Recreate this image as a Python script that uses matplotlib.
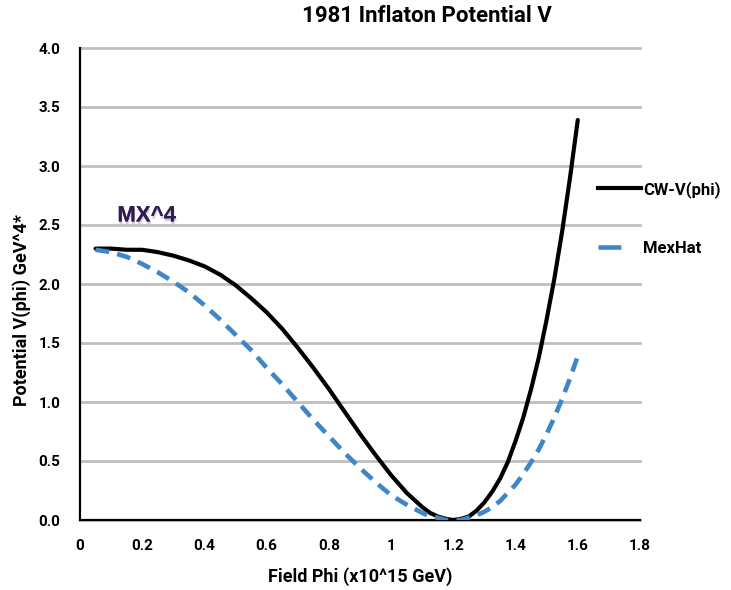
import matplotlib
matplotlib.use('Agg')
import matplotlib.pyplot as plt
import matplotlib.patheffects as pe
from matplotlib.lines import Line2D

plt.rcParams['font.family'] = ['Roboto', 'DejaVu Sans']

# Field values (x10^15 GeV) and the two potentials
phi = [0.05, 0.10, 0.15, 0.20, 0.25, 0.30, 0.35, 0.40, 0.45, 0.50,
       0.55, 0.60, 0.65, 0.70, 0.75, 0.80, 0.85, 0.90, 0.95, 1.00,
       1.05, 1.10, 1.125, 1.15, 1.175, 1.20, 1.225, 1.25, 1.275, 1.30,
       1.325, 1.35, 1.375, 1.40, 1.425, 1.45, 1.475, 1.50, 1.525, 1.55,
       1.575, 1.60]
cw_v = [2.30, 2.30, 2.29, 2.29, 2.27, 2.24, 2.20, 2.15, 2.08, 1.99,
        1.88, 1.76, 1.62, 1.46, 1.29, 1.11, 0.92, 0.73, 0.55, 0.38,
        0.23, 0.11, 0.06, 0.03, 0.01, 0.00, 0.01, 0.03, 0.08, 0.15,
        0.24, 0.35, 0.49, 0.67, 0.87, 1.11, 1.38, 1.70, 2.05, 2.45,
        2.90, 3.39]
mexhat = [2.29, 2.27, 2.23, 2.17, 2.10, 2.02, 1.93, 1.82, 1.70, 1.57,
          1.44, 1.29, 1.15, 1.00, 0.85, 0.71, 0.57, 0.44, 0.32, 0.21,
          0.13, 0.06, 0.03, 0.02, 0.00, 0.00, 0.00, 0.02, 0.04, 0.07,
          0.11, 0.16, 0.23, 0.30, 0.39, 0.49, 0.60, 0.73, 0.87, 1.03,
          1.20, 1.39]

x_ticks = [0, 0.2, 0.4, 0.6, 0.8, 1.0, 1.2, 1.4, 1.6, 1.8]
x_tick_labels = ['0', '0.2', '0.4', '0.6', '0.8', '1', '1.2', '1.4', '1.6', '1.8']
y_ticks = [0, 0.5, 1.0, 1.5, 2.0, 2.5, 3.0, 3.5, 4.0]
y_tick_labels = ['0.0', '0.5', '1.0', '1.5', '2.0', '2.5', '3.0', '3.5', '4.0']

blue = '#3f86c6'

fig = plt.figure(figsize=(7.31, 5.90), dpi=100)
ax = fig.add_axes([80 / 731, 1 - 520 / 590, 560 / 731, 472 / 590])

ax.plot(phi, cw_v, color='black', lw=3, solid_capstyle='round', zorder=3)
ax.plot(phi, mexhat, color=blue, lw=3.3, dashes=(3, 1.8), zorder=3)

ax.set_xlim(0, 1.8)
ax.set_ylim(0, 4.0)
ax.set_xticks(x_ticks)
ax.set_xticklabels(x_tick_labels, fontsize=11, fontweight='bold')
ax.set_yticks(y_ticks)
ax.set_yticklabels(y_tick_labels, fontsize=11, fontweight='bold')
ax.tick_params(length=0)
ax.tick_params(axis='x', pad=14)
ax.tick_params(axis='y', pad=14)

ax.yaxis.grid(True, color='#bfbfbf', lw=2)
for gl in ax.get_ygridlines():
    gl.set_clip_on(False)
ax.set_axisbelow(True)
for s in ['top', 'right']:
    ax.spines[s].set_visible(False)
for s in ['left', 'bottom']:
    ax.spines[s].set_linewidth(1.6)
    ax.spines[s].set_zorder(2.5)

# Annotation with a soft shadow
ax.text(0.12, 2.53, 'MX^4', family='Liberation Sans', fontweight='bold',
        fontsize=16, color='#2f1d50',
        path_effects=[pe.withSimplePatchShadow(offset=(0.5, -2), shadow_rgbFace='#b9a9d6', alpha=0.6),
                      pe.Normal()])

# Legend outside on the right
handles = [Line2D([], [], color='black', lw=3),
           Line2D([], [], color=blue, lw=3.3, dashes=(5, 10))]
fig.legend(handles, ['CW-V(phi)', 'MexHat'], loc='upper left',
           bbox_to_anchor=(583 / 731, 1 - 166 / 590), frameon=False,
           prop={'weight': 'bold', 'size': 12}, handlelength=2.6,
           handletextpad=0.1, labelspacing=2.6)

fig.text(427 / 731, 1 - 16 / 590, '1981 Inflaton Potential V',
         ha='center', va='center', fontsize=16, fontweight='bold')
fig.text(360 / 731, 1 - 577 / 590, 'Field Phi (x10^15 GeV)',
         ha='center', va='center', fontsize=13, fontweight='bold')
fig.text(22 / 731, 1 - 310 / 590, 'Potential V(phi) GeV^4*', rotation=90,
         ha='center', va='center', fontsize=13, fontweight='bold')

fig.savefig('out.png', dpi=100)
